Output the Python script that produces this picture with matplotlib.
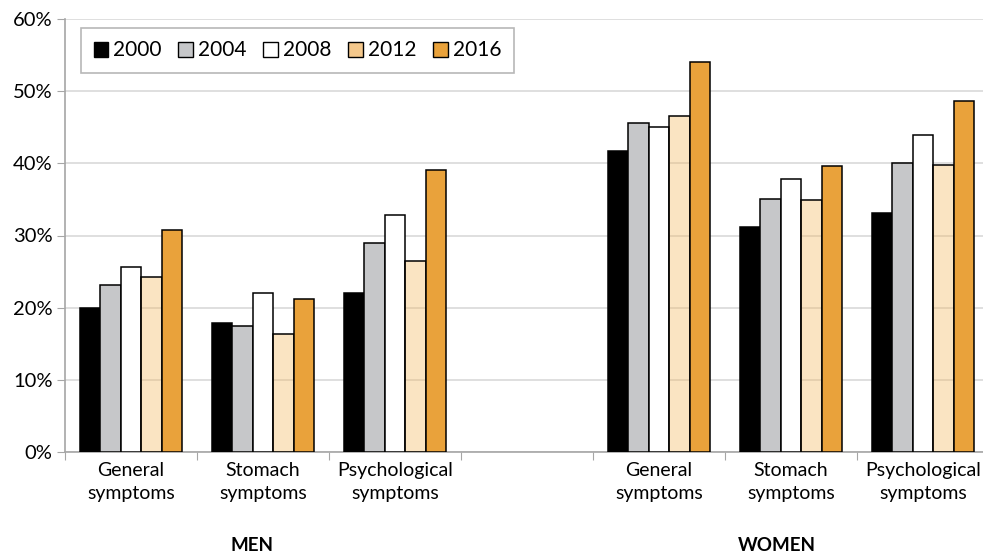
import matplotlib
matplotlib.use("Agg")
import matplotlib.pyplot as plt
import numpy as np
from matplotlib.patches import Patch

plt.rcParams["font.family"] = ["Lato", "DejaVu Sans"]

years = ["2000", "2004", "2008", "2012", "2016"]
categories = ["General\nsymptoms", "Stomach\nsymptoms", "Psychological\nsymptoms"]
groups = ["MEN", "WOMEN"]

# percent values, rows = year, columns = men (3) then women (3)
men = [
    [20.0, 17.9, 22.1],
    [23.2, 17.4, 29.0],
    [25.7, 22.0, 32.9],
    [24.2, 16.4, 26.5],
    [30.7, 21.2, 39.1],
]
women = [
    [41.7, 31.2, 33.1],
    [45.6, 35.1, 40.0],
    [45.0, 37.8, 43.9],
    [46.5, 34.9, 39.8],
    [54.0, 39.6, 48.7],
]

bar_colors = ["#000000", "#C6C7C9", "#FFFFFF", (0.95, 0.72, 0.38, 0.38), "#E9A23B"]
legend_colors = ["#000000", "#C6C7C9", "#FFFFFF", "#F4C88C", "#E9A23B"]

W, H = 983, 553
fig = plt.figure(figsize=(W / 100, H / 100), dpi=100)
ax = fig.add_axes([65 / W, (H - 452) / H, 924 / W, 433 / H])

# slot positions: three men groups, one empty slot, three women groups
men_x = np.arange(3)
women_x = np.arange(3) + 4
bw = 0.156
for k in range(len(years)):
    off = (k - 2) * bw
    ax.bar(men_x + off, men[k], bw, color=bar_colors[k], edgecolor="black",
           linewidth=1.1, zorder=3)
    ax.bar(women_x + off, women[k], bw, color=bar_colors[k], edgecolor="black",
           linewidth=1.1, zorder=3)

ax.set_xlim(-0.5, 6.5)
ax.set_ylim(0, 60)
ax.set_yticks(np.arange(0, 61, 10))
ax.set_yticklabels([f"{v}%" for v in range(0, 61, 10)], fontsize=14.5)
ax.yaxis.grid(True, color="#D9D9D9", linewidth=1.2, zorder=0)
ax.set_axisbelow(True)

ax.set_xticks(np.arange(-0.5, 7, 1))
ax.set_xticklabels([])
ax.set_xticks(list(men_x) + list(women_x), minor=True)
ax.set_xticklabels(categories + categories, minor=True, fontsize=14,
                   linespacing=1.45)
ax.tick_params(axis="x", which="minor", length=0, pad=7)
ax.tick_params(axis="x", which="major", length=6, color="#A6A6A6")
ax.tick_params(axis="y", length=6, color="#A6A6A6", pad=3)

for s in ["top", "right"]:
    ax.spines[s].set_visible(False)
for s in ["left", "bottom"]:
    ax.spines[s].set_color("#A6A6A6")
    ax.spines[s].set_linewidth(1.2)

ax.text(0.92, -12.9, groups[0], ha="center", va="center", fontsize=13.5,
        fontweight="bold")
ax.text(4.89, -12.9, groups[1], ha="center", va="center", fontsize=13.5,
        fontweight="bold")

handles = [Patch(facecolor=c, edgecolor="black", linewidth=1.0) for c in legend_colors]
leg = ax.legend(handles, years, ncol=5, loc="upper left",
                bbox_to_anchor=(16 / 924, 1 - 9 / 433), fontsize=15,
                frameon=True, fancybox=False, handlelength=0.7, handleheight=0.7,
                handletextpad=0.25, columnspacing=0.8, borderpad=0.6,
                borderaxespad=0)
leg.get_frame().set_edgecolor("#A6A6A6")
leg.get_frame().set_linewidth(1.2)

fig.savefig("out.png", dpi=100)
